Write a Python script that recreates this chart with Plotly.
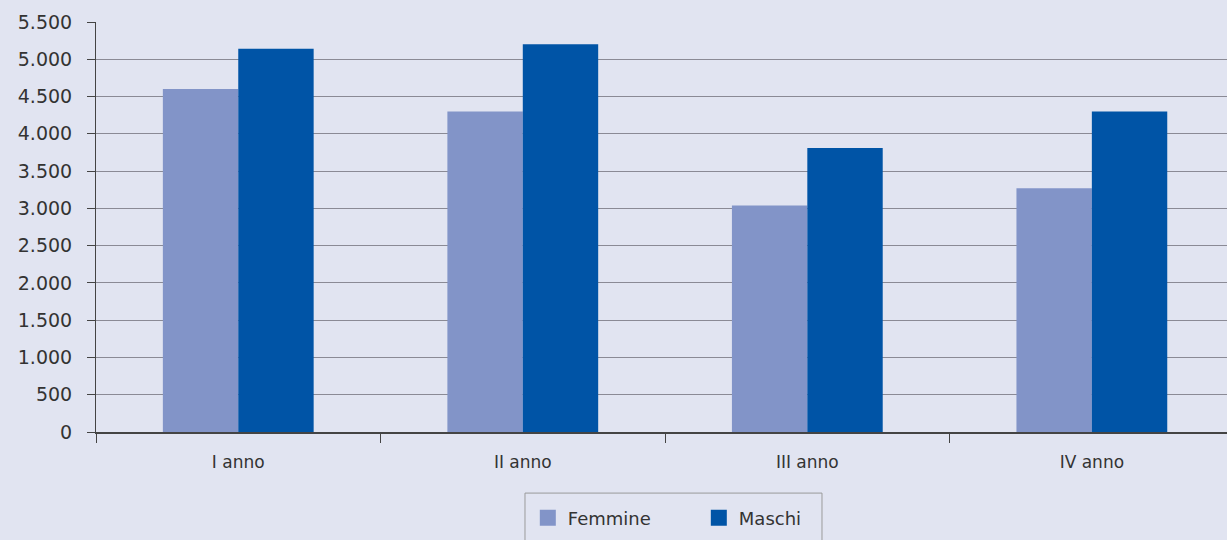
import plotly.graph_objects as go

categories = ["I anno", "II anno", "III anno", "IV anno"]
femmine = [4600, 4300, 3040, 3270]
maschi = [5140, 5200, 3810, 4300]
y_ticks = [0, 500, 1000, 1500, 2000, 2500, 3000, 3500, 4000, 4500, 5000, 5500]
y_labels = ["0", "500", "1.000", "1.500", "2.000", "2.500", "3.000", "3.500",
            "4.000", "4.500", "5.000", "5.500"]

BG = "#E1E4F1"
C_F = "#8294C8"
C_M = "#0054A6"
FONT = "DejaVu Sans"

fig = go.Figure()
fig.add_trace(go.Bar(x=categories, y=femmine, name="Femmine", marker_color=C_F,
                     marker_line_width=0, showlegend=False))
fig.add_trace(go.Bar(x=categories, y=maschi, name="Maschi", marker_color=C_M,
                     marker_line_width=0, showlegend=False))
# legend entries with larger square swatches
for name, col in [("Femmine", C_F), ("Maschi", C_M)]:
    fig.add_trace(go.Scatter(x=[None], y=[None], mode="markers", name=name,
                             marker=dict(symbol="square", size=18, color=col)))

fig.update_layout(
    width=1227, height=540,
    paper_bgcolor=BG, plot_bgcolor=BG,
    margin=dict(l=96, r=0, t=22, b=108),
    barmode="group", bargap=0.47, bargroupgap=0,
    font=dict(family=FONT, color="#333333"),
    showlegend=True,
    legend=dict(orientation="h", x=0.3818, xanchor="left", y=-0.165, yanchor="top",
                bgcolor="rgba(0,0,0,0)", borderwidth=0,
                font=dict(size=18, color="#333333"), entrywidth=126,
                itemwidth=30),
    shapes=[dict(type="rect", xref="paper", yref="paper",
                 x0=0.3793, x1=0.6419, y0=-0.149, y1=-0.40,
                 line=dict(color="#9a9a9a", width=1), fillcolor="rgba(0,0,0,0)",
                 layer="below")],
)
fig.update_xaxes(
    type="category", range=[-0.5, 3.475],
    showline=True, linecolor="#444444", linewidth=2,
    ticks="outside", tickson="boundaries", ticklen=9, tickcolor="#444444", tickwidth=1,
    ticklabelstandoff=14,
    showgrid=False, tickfont=dict(size=17, color="#333333"), fixedrange=True,
)
fig.update_yaxes(
    range=[0, 5500], tickvals=y_ticks, ticktext=y_labels,
    showline=True, linecolor="#444444", linewidth=1,
    ticks="outside", ticklen=8, tickcolor="#444444",
    ticklabelstandoff=11,
    showgrid=True, gridcolor="#8a8a95", gridwidth=1,
    zeroline=False, tickfont=dict(size=19, color="#333333"),
)

fig.write_html("out.html", config={"displayModeBar": False},
               post_script="document.body.style.margin='0';")
